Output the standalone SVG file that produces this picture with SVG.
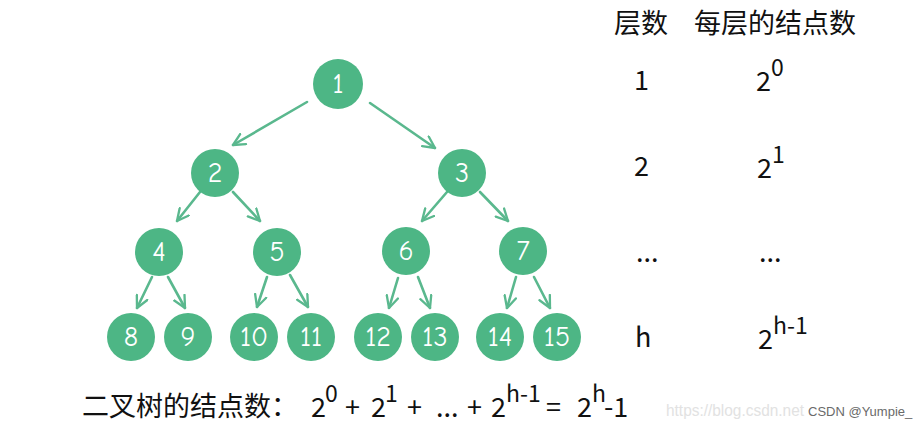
<svg xmlns="http://www.w3.org/2000/svg" width="919" height="428" viewBox="0 0 919 428">
<defs>
<style>
.n circle{fill:#4db685;}
.n text{fill:#fff;font-family:"Comic Neue","Open Sans","Noto Sans",sans-serif;font-size:28px;text-anchor:middle;dominant-baseline:central;}
.e line{stroke:#5ab88e;stroke-width:2.6;stroke-linecap:round;fill:none;marker-end:url(#ah);}
.t{font-family:"Noto Sans CJK SC","Noto Sans",sans-serif;font-size:27px;fill:#111;}
.s{font-size:23px;}
</style>
<marker id="ah" viewBox="0 0 12 12" refX="11" refY="6" markerWidth="14" markerHeight="14" markerUnits="userSpaceOnUse" orient="auto">
<path d="M1,1 L11,6 L1,11" fill="none" stroke="#5ab88e" stroke-width="2" stroke-linecap="round" stroke-linejoin="round"/>
</marker>
</defs>
<rect width="919" height="428" fill="#fff"/>
<g id="connectors" class="e">
<line x1="307" y1="102" x2="233" y2="145"/>
<line x1="370" y1="103" x2="435" y2="148"/>
<line x1="200" y1="192" x2="177" y2="221"/>
<line x1="233" y1="192" x2="260" y2="221"/>
<line x1="447" y1="192" x2="422" y2="221"/>
<line x1="480" y1="192" x2="508" y2="221"/>
<line x1="152" y1="277" x2="137" y2="308"/>
<line x1="168" y1="277" x2="185" y2="308"/>
<line x1="267" y1="277" x2="257" y2="307"/>
<line x1="290" y1="275" x2="308" y2="307"/>
<line x1="398" y1="278" x2="389" y2="308"/>
<line x1="418" y1="277" x2="430" y2="308"/>
<line x1="516" y1="277" x2="507" y2="308"/>
<line x1="534" y1="277" x2="550" y2="308"/>
</g>
<g id="node1" class="n"><circle cx="338" cy="84" r="25"/><text x="338" y="84">1</text></g>
<g id="node2" class="n"><circle cx="215" cy="173" r="24"/><text x="215" y="173">2</text></g>
<g id="node3" class="n"><circle cx="462" cy="173" r="24"/><text x="462" y="173">3</text></g>
<g id="node4" class="n"><circle cx="159" cy="252" r="24"/><text x="159" y="252">4</text></g>
<g id="node5" class="n"><circle cx="277" cy="252" r="24"/><text x="277" y="252">5</text></g>
<g id="node6" class="n"><circle cx="406" cy="251" r="24"/><text x="406" y="251">6</text></g>
<g id="node7" class="n"><circle cx="523" cy="251" r="24"/><text x="523" y="251">7</text></g>
<g id="node8" class="n"><circle cx="131" cy="337" r="24"/><text x="131" y="337">8</text></g>
<g id="node9" class="n"><circle cx="188" cy="337" r="24"/><text x="188" y="337">9</text></g>
<g id="node10" class="n"><circle cx="254" cy="337" r="24"/><text x="254" y="337">10</text></g>
<g id="node11" class="n"><circle cx="311" cy="337" r="24"/><text x="311" y="337">11</text></g>
<g id="node12" class="n"><circle cx="378" cy="337" r="24"/><text x="378" y="337">12</text></g>
<g id="node13" class="n"><circle cx="435" cy="337" r="24"/><text x="435" y="337">13</text></g>
<g id="node14" class="n"><circle cx="500" cy="337" r="24"/><text x="500" y="337">14</text></g>
<g id="node15" class="n"><circle cx="557" cy="337" r="24"/><text x="557" y="337">15</text></g>
<g id="table">
<text class="t" x="614" y="33">层数</text>
<text class="t" x="694" y="33">每层的结点数</text>
<text class="t" x="634" y="90">1</text>
<text class="t" x="756" y="91">2<tspan class="s" dy="-15">0</tspan></text>
<text class="t" x="634" y="176">2</text>
<text class="t" x="757" y="178">2<tspan class="s" dy="-15">1</tspan></text>
<text class="t" x="636" y="262">...</text>
<text class="t" x="759" y="262">...</text>
<text class="t" x="635" y="347">h</text>
<text class="t" x="758" y="349">2<tspan class="s" dy="-15">h-1</tspan></text>
</g>
<g id="formula">
<text class="t" x="82" y="416">二叉树的结点数：</text>
<text class="t" x="311" y="417">2<tspan class="s" x="325" dy="-15">0</tspan><tspan x="345" dy="15">+</tspan><tspan x="371">2</tspan><tspan class="s" x="385" dy="-15">1</tspan><tspan x="407" dy="15">+</tspan><tspan x="436">...</tspan><tspan x="467">+</tspan><tspan x="491">2</tspan><tspan class="s" x="506" dy="-15">h-1</tspan><tspan x="546" dy="15">=</tspan><tspan x="577">2</tspan><tspan class="s" x="592" dy="-15">h</tspan><tspan x="604" dy="15">-1</tspan></text>
</g>
<g id="watermark">
<text x="666" y="416" font-family="Liberation Sans, Arial, sans-serif" font-size="16" fill="#e2e2e2" textLength="138" lengthAdjust="spacingAndGlyphs">https://blog.csdn.net</text>
<text x="808" y="416" font-family="Liberation Sans, Arial, sans-serif" font-size="13" fill="#6a6a6a">CSDN @Yumpie_</text>
</g>
</svg>
